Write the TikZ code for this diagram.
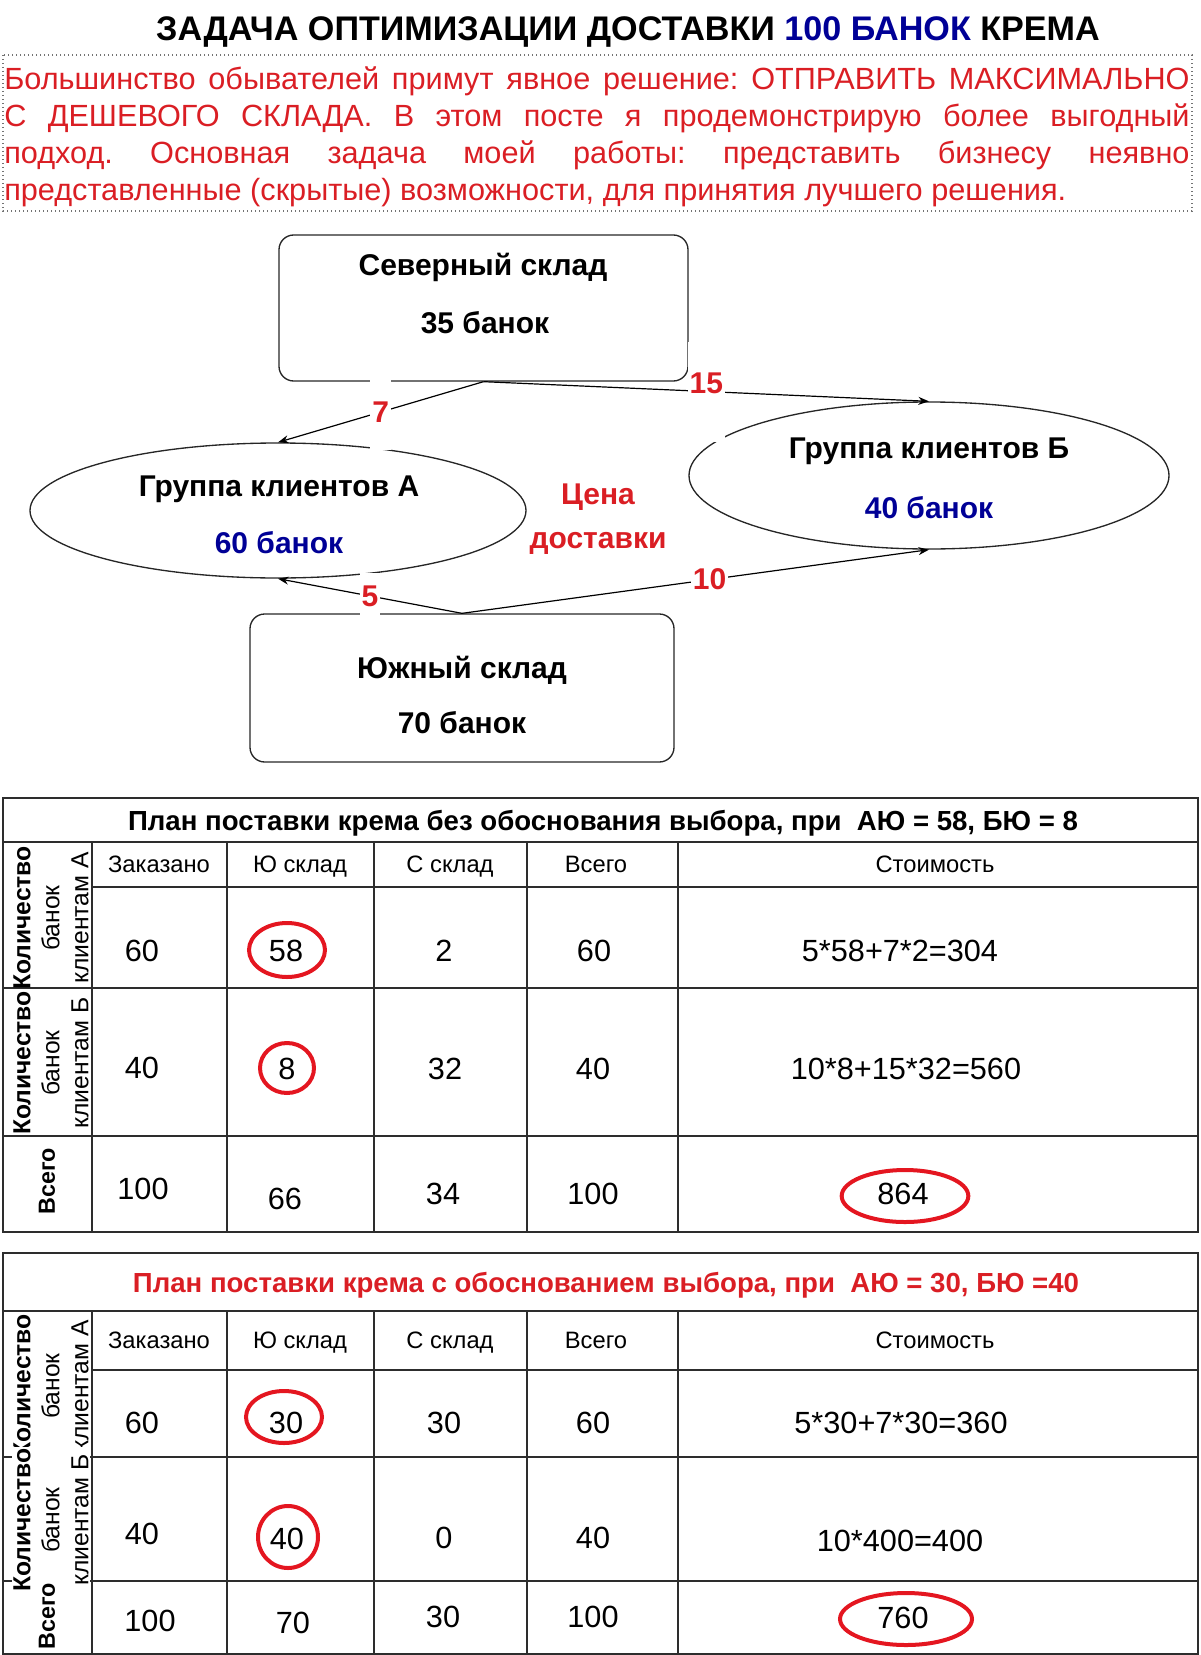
\documentclass[tikz,border=0pt]{standalone}
\usepackage{fontspec}
\setmainfont{Liberation Sans}
\usetikzlibrary{shapes.geometric,arrows.meta}
\definecolor{redtxt}{RGB}{218,30,36}
\definecolor{navytxt}{RGB}{0,0,150}
\definecolor{markred}{RGB}{228,22,32}
\definecolor{gridc}{RGB}{45,45,45}
\newcommand\fs[2]{\fontsize{#1}{#2}\selectfont}
\frenchspacing
\begin{document}
\begin{tikzpicture}[x=0.75pt,y=-0.75pt,
  t/.style={inner sep=0pt, anchor=base},
  dtxt/.style={t, font=\bfseries\fs{22.5}{27}},
  boxn/.style={draw=black!85, line width=1pt, rounded corners=11pt, inner sep=0pt},
  ell/.style={ellipse, draw=black!85, line width=1pt, inner sep=0pt},
  conn/.style={draw=black, line width=0.9pt, -{Stealth[length=8pt,width=6pt]}},
  lbl/.style={font=\bfseries\fs{22.5}{27}, text=redtxt, fill=white, inner xsep=1.5pt, inner ysep=0pt},
  grid/.style={draw=gridc, line width=1.1pt},
  hdr/.style={t, font=\fs{17.8}{21}},
  num/.style={t, font=\fs{23}{27}},
  ttl/.style={t, font=\bfseries\fs{20.7}{24}},
  rot/.style={rotate=90, align=center, font=\fs{18.5}{21.75}, inner sep=1pt},
  redmark/.style={draw=markred, line width=3pt}
]
\useasboundingbox (0,0) rectangle (1200,1655);

% ---------- title and intro ----------
\node (title) [t, font=\bfseries\fs{25.6}{30}] at (628,41)
  {ЗАДАЧА ОПТИМИЗАЦИИ ДОСТАВКИ \textcolor{navytxt}{100 БАНОК} КРЕМА};
\draw[black!55, line width=0.8pt, dash pattern=on 1pt off 2pt] (3,55) rectangle (1192,211);
\node (para) [anchor=north west, inner sep=0pt, text width=889pt, align=justify,
  text=redtxt, font=\fs{23}{27.9}] at (4,66)
  {\tolerance=10000\hyphenpenalty=10000 Большинство обывателей примут явное решение: ОТПРАВИТЬ МАКСИМАЛЬНО\linebreak
   С ДЕШЕВОГО СКЛАДА. В этом посте я продемонстрирую более выгодный\linebreak
   подход. Основная задача моей работы: представить бизнесу неявно\linebreak
   представленные (скрытые) возможности, для принятия лучшего решения.};

% ---------- diagram ----------
\node (N) [boxn, minimum width=306.75pt, minimum height=109.5pt] at (483.5,308) {};
\node (S) [boxn, minimum width=318pt, minimum height=111pt] at (462,688) {};
\node (A) [ell, minimum width=372pt, minimum height=101.25pt] at (278,510.5) {};
\node (B) [ell, minimum width=360pt, minimum height=110.25pt] at (929,475.5) {};

\node (Nt1) [dtxt] at (483,276) {Северный склад};
\node (Nt2) [dtxt] at (485,333) {35 банок};
\node (At1) [dtxt] at (279,496) {Группа клиентов А};
\node (At2) [dtxt, text=navytxt] at (279,553) {60 банок};
\node (Bt1) [dtxt] at (929,458) {Группа клиентов Б};
\node (Bt2) [dtxt, text=navytxt] at (929,518) {40 банок};
\node (St1) [dtxt] at (462,678) {Южный склад};
\node (St2) [dtxt] at (462,733) {70 банок};
\node (price) [font=\bfseries\fs{22.5}{33}, text=redtxt, align=center, inner sep=0pt] at (598,519) {Цена\\доставки};

\draw[conn] (N.south) -- node[lbl, minimum height=57pt] {7} (A.north);
\draw[conn] (N.south) -- node[lbl, minimum height=75pt, minimum width=28pt, text depth=13pt] {15} (B.north);
\draw[conn] (S.north) -- node[lbl, minimum height=34pt] {5} (A.south);
\draw[conn] (S.north) -- node[lbl, pos=0.53] {10} (B.south);

% ---------- table 1 ----------
\draw[grid] (3,842) -- (1198,842);
\draw[grid] (92,887) -- (1198,887);
\draw[grid] (3,988) -- (1198,988);
\draw[grid] (3,1136) -- (1198,1136);
\node (t1ra) [rot] at (51,918) {\textbf{Количество}\\банок\\клиентам А};
\node (t1rb) [rot] at (51,1063) {\textbf{Количество}\\банок\\клиентам Б};
\node (t1rt) [rot, font=\bfseries\fs{17.5}{21.75}] at (47,1181) {Всего};
\draw[grid] (3,798) rectangle (1198,1232);
\foreach \xx in {92,227,374,527,678} \draw[grid] (\xx,842) -- (\xx,1232);

\node (t1ttl) [ttl] at (603,830) {План поставки крема без обоснования выбора, при\ \ АЮ = 58, БЮ = 8};
\node (t1h1) [hdr] at (159,872) {Заказано};
\node (t1h2) [hdr] at (300,872) {Ю склад};
\node (t1h3) [hdr] at (450,872) {С склад};
\node (t1h4) [hdr] at (596,872) {Всего};
\node (t1h5) [hdr] at (935,872) {Стоимость};
\node (t1a1) [num] at (142,961) {60};
\node (t1a2) [num] at (286,961) {58};
\node (t1a3) [num] at (444,961) {2};
\node (t1a4) [num] at (594,961) {60};
\node (t1a5) [num] at (900,961) {5*58+7*2=304};
\node (t1b1) [num] at (142,1078) {40};
\node (t1b2) [num] at (287,1079) {8};
\node (t1b3) [num] at (445,1079) {32};
\node (t1b4) [num] at (593,1079) {40};
\node (t1b5) [num] at (906,1079) {10*8+15*32=560};
\node (t1c1) [num] at (143,1199) {100};
\node (t1c2) [num] at (285,1209) {66};
\node (t1c3) [num] at (443,1204) {34};
\node (t1c4) [num] at (593,1204) {100};
\node (t1c5) [num] at (903,1204) {864};
\draw[redmark] (287,950) ellipse [x radius=28.5pt, y radius=20.25pt];
\draw[redmark] (287,1068) ellipse [x radius=20.25pt, y radius=18.75pt];
\draw[redmark] (905,1196) ellipse [x radius=47.5pt, y radius=19.5pt];

% ---------- table 2 ----------
\draw[grid] (3,1311) -- (1198,1311);
\draw[grid] (92,1370) -- (1198,1370);
\draw[grid] (3,1457) -- (1198,1457);
\draw[grid] (3,1581) -- (1198,1581);
\node (t2ra) [rot] at (51,1386) {\textbf{Количество}\\банок\\клиентам А};
\node (t2rb) [rot, fill=white] at (51,1520) {\textbf{Количество}\\банок\\клиентам Б};
\node (t2rt) [rot, font=\bfseries\fs{17.5}{21.75}] at (47,1616) {Всего};
\draw[grid] (3,1253) rectangle (1198,1654);
\foreach \xx in {92,227,374,527,678} \draw[grid] (\xx,1311) -- (\xx,1654);

\node (t2ttl) [ttl, text=redtxt] at (606,1292) {План поставки крема с обоснованием выбора, при\ \ АЮ = 30, БЮ =40};
\node (t2h1) [hdr] at (159,1348) {Заказано};
\node (t2h2) [hdr] at (300,1348) {Ю склад};
\node (t2h3) [hdr] at (450,1348) {С склад};
\node (t2h4) [hdr] at (596,1348) {Всего};
\node (t2h5) [hdr] at (935,1348) {Стоимость};
\node (t2a1) [num] at (142,1433) {60};
\node (t2a2) [num] at (286,1433) {30};
\node (t2a3) [num] at (444,1433) {30};
\node (t2a4) [num] at (593,1433) {60};
\node (t2a5) [num] at (901,1433) {5*30+7*30=360};
\node (t2b1) [num] at (142,1544) {40};
\node (t2b2) [num] at (287,1549) {40};
\node (t2b3) [num] at (444,1548) {0};
\node (t2b4) [num] at (593,1548) {40};
\node (t2b5) [num] at (900,1551) {10*400=400};
\node (t2c1) [num] at (150,1631) {100};
\node (t2c2) [num] at (293,1633) {70};
\node (t2c3) [num] at (443,1627) {30};
\node (t2c4) [num] at (593,1627) {100};
\node (t2c5) [num] at (903,1628) {760};
\draw[redmark] (284,1417) ellipse [x radius=28.5pt, y radius=19.5pt];
\draw[redmark] (288,1537) ellipse [x radius=22.5pt, y radius=23.25pt];
\draw[redmark] (906,1619) ellipse [x radius=49.5pt, y radius=19.5pt];
\end{tikzpicture}
\end{document}
